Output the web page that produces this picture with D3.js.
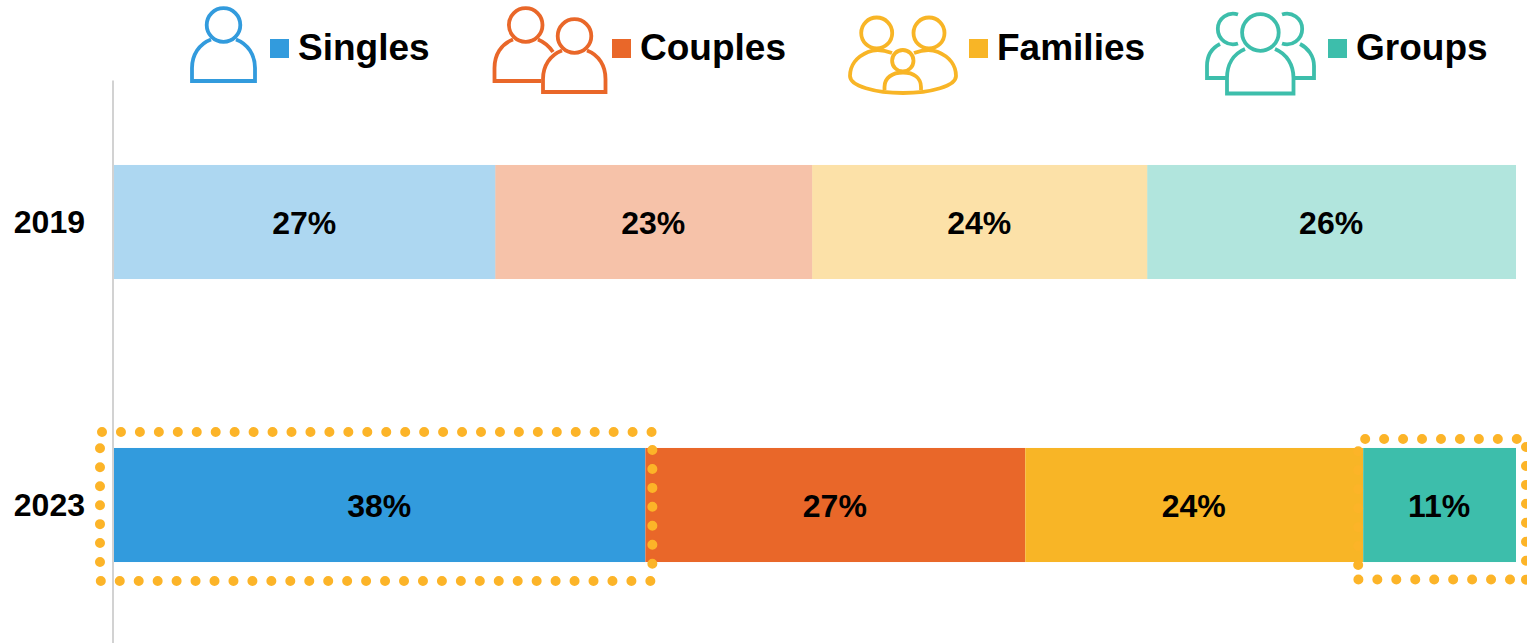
<!DOCTYPE html>
<html>
<head>
<meta charset="utf-8">
<script src="https://cdn.jsdelivr.net/npm/d3@7"></script>
<style>
  body { margin: 0; background: #fff; overflow: hidden; }
  text { font-family: "Liberation Sans", Arial, sans-serif; font-weight: bold; fill: #000; }
</style>
</head>
<body>
<script>
const years = ['2019', '2023'];
const segments = ['Singles', 'Couples', 'Families', 'Groups'];
const colors = ['#329bdd', '#e96729', '#f8b526', '#3dbeab'];
const values2019 = [27.2, 22.6, 23.9, 26.3];
const values2023 = [37.9, 27.1, 24.1, 10.9];
const barOpacity = [0.4, 1];

const w = 1527;
const h = 643;

const rows = [values2019, values2023].map((vals, i) => {
  let row = { year: years[i], opacity: barOpacity[i] };
  segments.forEach((s, j) => { row[s] = vals[j]; });
  return row;
});

//scales for the bars
const xScale = d3.scaleLinear().domain([0, 100]).range([114, 1516]);
const yScale = d3.scaleBand()
  .domain(years)
  .range([80.5, 646.5])
  .paddingInner(0.597)
  .paddingOuter(0.2985);
const stacked = d3.stack().keys(segments)(rows);

const svg = d3.select('body')
  .append('svg')
  .attr('width', w)
  .attr('height', h);

//one group per segment, one rect per year
const layers = svg.selectAll('.layer')
  .data(stacked)
  .enter()
  .append('g')
  .attr('class', 'layer')
  .attr('fill', (d, i) => colors[i]);

layers.selectAll('rect')
  .data((d) => d)
  .enter()
  .append('rect')
  .attr('x', (d) => xScale(d[0]))
  .attr('y', (d) => yScale(d.data.year))
  .attr('width', (d) => xScale(d[1]) - xScale(d[0]))
  .attr('height', yScale.bandwidth())
  .attr('fill-opacity', (d) => d.data.opacity);

layers.selectAll('text')
  .data((d) => d)
  .enter()
  .append('text')
  .attr('x', (d) => (xScale(d[0]) + xScale(d[1])) / 2 - 0.5)
  .attr('y', (d) => yScale(d.data.year) + yScale.bandwidth() / 2 + 11.5)
  .attr('text-anchor', 'middle')
  .style('font-size', '32px')
  .text((d) => Math.round(d[1] - d[0]) + '%');

//y axis, only the line and the years
const yAxis = d3.axisLeft(yScale).tickSize(0).tickPadding(28).offset(0);
const yAxisG = svg.append('g')
  .attr('transform', 'translate(113, 0)')
  .call(yAxis);
yAxisG.select('.domain').attr('stroke', '#d2d2d2').attr('stroke-width', 2);
yAxisG.selectAll('text')
  .attr('dy', null)
  .attr('y', 11)
  .style('font-size', '32px');

//dotted boxes around the two changes that matter
const dotLine = (points) => {
  svg.append('path')
    .attr('d', d3.line()(points))
    .attr('fill', 'none')
    .attr('stroke', '#fcb428')
    .attr('stroke-width', 10)
    .attr('stroke-linecap', 'round')
    .attr('stroke-dasharray', '0 18.95');
};
const top23 = yScale('2023');
const bottom23 = top23 + yScale.bandwidth();
const singlesEnd = xScale(values2023[0]);
const groupsStart = xScale(100 - values2023[3]);

dotLine([[xScale(0) - 12, top23 - 16], [singlesEnd + 7, top23 - 16]]);
dotLine([[singlesEnd + 7, top23 + 2], [singlesEnd + 7, bottom23 + 3]]);
dotLine([[singlesEnd + 5, bottom23 + 19], [xScale(0) - 14, bottom23 + 19]]);
dotLine([[xScale(0) - 14, bottom23], [xScale(0) - 14, top23]]);

dotLine([[groupsStart + 2, top23 - 9], [xScale(100) + 1, top23 - 9]]);
dotLine([[xScale(100) + 10, top23 - 1], [xScale(100) + 10, bottom23 + 18]]);
dotLine([[xScale(100) - 6, bottom23 + 17.5], [groupsStart - 5, bottom23 + 17.5]]);
dotLine([[groupsStart - 5, bottom23 + 3], [groupsStart - 5, top23 - 1]]);

//legend: icon outlines, colour square and name
const legendSquareX = [270, 612, 969, 1328];

const legend = svg.selectAll('.legend')
  .data(segments)
  .enter()
  .append('g')
  .attr('class', 'legend');

legend.append('rect')
  .attr('x', (d, i) => legendSquareX[i])
  .attr('y', 39)
  .attr('width', 19)
  .attr('height', 19)
  .attr('fill', (d, i) => colors[i]);

legend.append('text')
  .attr('x', (d, i) => legendSquareX[i] + 28)
  .attr('y', 60)
  .style('font-size', '37px')
  .text((d) => d);

const icon = (i) => svg.append('g')
  .attr('fill', 'none')
  .attr('stroke', colors[i])
  .attr('stroke-width', 3.8);

const head = (g, cx, cy, r) => g.append('circle').attr('cx', cx).attr('cy', cy).attr('r', r);
const outline = (g, d) => g.append('path').attr('d', d);

//singles
const singleIcon = icon(0);
head(singleIcon, 223.5, 25, 16.8);
outline(singleIcon, 'M211,39.5C199,44 192,55 192,68V81H255V68C255,55 248,44 236,39.5');

//couples
const coupleIcon = icon(1);
head(coupleIcon, 525.7, 25, 16.8);
outline(coupleIcon, 'M513,39.5C501,44 494.5,55 494.5,68V81H541M538,39.5C544,42 549,46 553,52');
head(coupleIcon, 574.5, 36, 16.8);
outline(coupleIcon, 'M562,50.5C550,55 543,66 543,79V92H605.5V79C605.5,66 599,55 587,50.5');

//families
const familyIcon = icon(2);
head(familyIcon, 876.7, 33, 15.5);
head(familyIcon, 929, 33, 15.5);
head(familyIcon, 902.8, 60.7, 10.7);
outline(familyIcon, 'M892,53C884,50 875,49 868,52C856,57 850,66 850,76C850,86 875,93 903,93C931,93 956,86 956,76C956,66 950,57 938,52C931,49 922,50 914,53');
outline(familyIcon, 'M884.5,90V87C884.5,78 892,72.5 903,72.5C914,72.5 921,78 921,87V90');

//groups
const groupIcon = icon(3);
head(groupIcon, 1260.4, 32.5, 18.3);
outline(groupIcon, 'M1245,49C1233,54 1227,65 1227,78V93.5H1293.5V78C1293.5,65 1287,54 1275,49');
outline(groupIcon, 'M1238,14.5A15.3,15.3 0 1 0 1238,43.5');
outline(groupIcon, 'M1282,14.5A15.3,15.3 0 1 1 1282,43.5');
outline(groupIcon, 'M1220,44C1212,48 1207,56 1207,66V78H1227');
outline(groupIcon, 'M1300,44C1308,48 1314,56 1314,66V78H1293.5');
</script>
</body>
</html>
